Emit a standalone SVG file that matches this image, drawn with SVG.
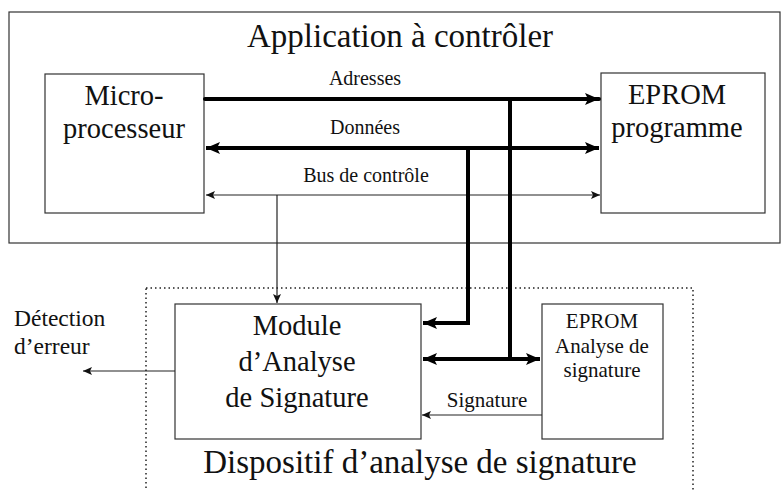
<svg xmlns="http://www.w3.org/2000/svg" width="782" height="490" viewBox="0 0 782 490" font-family="'Liberation Serif', 'DejaVu Serif', serif">
<style>
text{font-family:'Liberation Serif','DejaVu Serif',serif;fill:#111}
.box{fill:#fff;stroke:#333;stroke-width:1.2}
.big{font-size:33px;text-anchor:middle}
.node{font-size:28.5px;text-anchor:middle}
.sm{font-size:20px;text-anchor:middle}
.ep{font-size:21px;text-anchor:middle}
.thick{stroke:#000;stroke-width:4;fill:none}
.thin{stroke:#222;stroke-width:1.2;fill:none}
</style>
<defs>
<marker id="ah" markerUnits="userSpaceOnUse" markerWidth="16" markerHeight="14" refX="14" refY="7" orient="auto-start-reverse"><path d="M0,1 L14,7 L0,13 L3,7 Z" fill="#000"/></marker>
<marker id="as" markerUnits="userSpaceOnUse" markerWidth="10" markerHeight="10" refX="9" refY="5" orient="auto-start-reverse"><path d="M0,1 L9,5 L0,9 L2,5 Z" fill="#111"/></marker>
</defs>
<rect x="9" y="12" width="771" height="231" fill="none" stroke="#333" stroke-width="1.2"/>
<text class="big" x="400" y="47">Application à contrôler</text>
<rect x="146" y="288" width="547" height="210" fill="none" stroke="#222" stroke-width="1.5" stroke-dasharray="1.5,3"/>
<text class="big" x="420" y="473">Dispositif d’analyse de signature</text>
<g id="micro"><rect class="box" x="45" y="74" width="159" height="139"/><text class="node" x="124" y="105">Micro-</text><text class="node" x="124" y="138">processeur</text></g>
<g id="eprom"><rect class="box" x="601" y="73" width="164" height="140"/><text class="node" x="677" y="104">EPROM</text><text class="node" x="677" y="137">programme</text></g>
<g id="module"><rect class="box" x="175" y="304" width="246" height="135"/><text class="node" x="297" y="335">Module</text><text class="node" x="297" y="371">d’Analyse</text><text class="node" x="297" y="407">de Signature</text></g>
<g id="eprom2"><rect class="box" x="542" y="304" width="121" height="135"/><text class="ep" x="602" y="328">EPROM</text><text class="ep" x="602" y="353">Analyse de</text><text class="ep" x="602" y="377">signature</text></g>
<g id="detect"><text x="14" y="326" style="font-size:23.5px">Détection</text><text x="14" y="354" style="font-size:23.5px">d’erreur</text></g>
<g id="connectors">
<path class="thick" d="M205,99 H599" stroke-linecap="round" marker-end="url(#ah)"/>
<path class="thick" d="M206,148 H599" marker-start="url(#ah)" marker-end="url(#ah)"/>
<path class="thin" d="M206,195 H600" marker-start="url(#as)" marker-end="url(#as)"/>
<path class="thick" d="M510,99 V359"/>
<path class="thick" d="M468,148 V323 H423" marker-end="url(#ah)"/>
<path class="thick" d="M423,359 H540" marker-start="url(#ah)" marker-end="url(#ah)"/>
<path class="thin" d="M277,195 V303" marker-end="url(#as)"/>
<path class="thin" d="M542,415 H422" marker-end="url(#as)"/>
<path class="thin" d="M175,371 H83" marker-end="url(#as)"/>
<text class="sm" x="365" y="85">Adresses</text>
<text class="sm" x="365" y="134">Données</text>
<text class="sm" x="366" y="182">Bus de contrôle</text>
<text class="ep" x="487" y="407">Signature</text>
</g>
</svg>
